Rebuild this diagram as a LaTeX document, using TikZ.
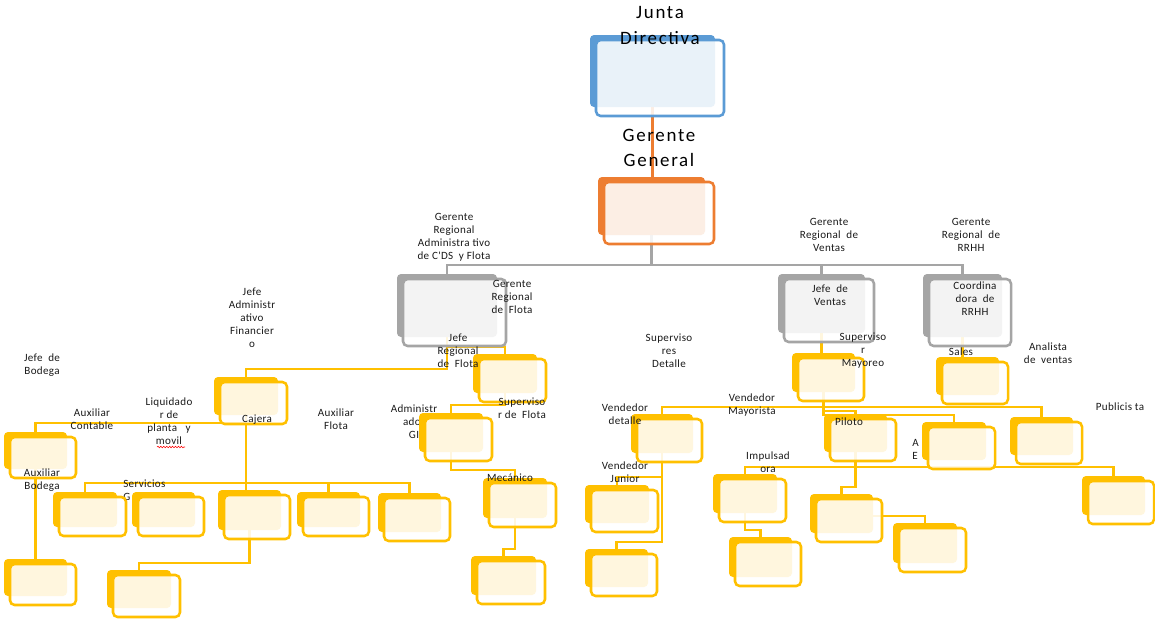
\documentclass[tikz,border=0pt]{standalone}
\usepackage{fontspec}
\setmainfont{Carlito}
\newfontfamily\lblfont[LetterSpace=3]{Carlito}
\newfontfamily\bigfont[LetterSpace=9]{Carlito}
\usetikzlibrary{backgrounds,decorations.pathmorphing}
\definecolor{cblue}{HTML}{5B9BD5}
\definecolor{corange}{HTML}{ED7D31}
\definecolor{cgray}{HTML}{A5A5A5}
\definecolor{cyel}{HTML}{FFC000}
\definecolor{ctext}{HTML}{1A1A1A}
\newcommand{\dbox}[6]{%
  \node[bk, fill=#2, minimum width={(#5-#3)*0.75pt}, minimum height={(#6-#4)*0.75pt}] (#1) at ({(#3+#5)/2},{(#4+#6)/2}) {};
  \node[fr, draw=#2, minimum width={(#5-#3+3)*0.75pt}, minimum height={(#6-#4+4)*0.75pt}] (#1-f) at ({(#3+#5)/2+7.5},{(#4+#6)/2+7}) {};
}
\begin{document}
\begin{tikzpicture}[x=0.75pt,y=-0.75pt,
  bk/.style={rectangle, rounded corners=3pt, inner sep=0pt, outer sep=0pt},
  fr/.style={rectangle, rounded corners=3.5pt, inner sep=0pt, outer sep=0pt, fill=white, fill opacity=0.87, line width=1.9pt},
  yl/.style={draw=cyel, line width=1.8pt},
  gl/.style={draw=cgray, line width=2.2pt},
  ol/.style={draw=corange, line width=1.8pt},
  lbl/.style={font=\lblfont\fontsize{8.3}{9.75}\selectfont, text=ctext, align=center, inner sep=0pt},
  big/.style={font=\bigfont\fontsize{14.2}{20}\selectfont, text=black, align=center, inner sep=0pt}]
\useasboundingbox (0,0) rectangle (1155,621);

% boxes
\dbox{jd}{cblue}{590}{35}{715}{107}
\dbox{gg}{corange}{598}{177}{705}{235}
\dbox{gra}{cgray}{397}{274}{497}{337}
\dbox{jv}{cgray}{778}{274}{865}{333}
\dbox{rrhh}{cgray}{923}{274}{1002}{337}
\dbox{jrf}{cyel}{473}{354}{537}{393}
\dbox{mec}{cyel}{483}{478}{547}{518}
\dbox{mecb}{cyel}{471}{556}{536}{595}
\dbox{s3}{cyel}{218}{490}{281}{530}
\dbox{s4}{cyel}{297}{492}{360}{527}
\dbox{s5}{cyel}{378}{493}{441}{532}
\dbox{caj}{cyel}{214}{377}{278}{415}
\dbox{ac}{cyel}{4}{432}{67}{469}
\dbox{ab}{cyel}{4}{559}{67}{596}
\dbox{s3b}{cyel}{107}{570}{171}{608}
\dbox{smay}{cyel}{792}{353}{855}{392}
\dbox{sales}{cyel}{936}{357}{999}{395}
\dbox{pil}{cyel}{824}{414}{887}{452}
\dbox{av}{cyel}{1010}{417}{1073}{455}
\dbox{pub}{cyel}{1082}{476}{1145}{515}
\dbox{pb1}{cyel}{810}{494}{873}{533}
\dbox{pb2}{cyel}{893}{523}{957}{563}
\dbox{vd}{cyel}{631}{414}{693}{453}
\dbox{vj}{cyel}{585}{485}{649}{523}
\dbox{vjb}{cyel}{585}{549}{648}{587}
\dbox{imp}{cyel}{713}{474}{777}{513}
\dbox{impb}{cyel}{729}{537}{792}{577}

% texts partly hidden by boxes
\node[lbl] (tab) at (42,480.5) {Auxiliar\\Bodega};
\node[lbl, align=left, anchor=north west] (tsg) at (123,480) {Servicios\\G};
\node[lbl] (tagi) at (414,421.5) {Administr\\ador\\GI};
\node[lbl, align=left, anchor=west] (tae) at (912,449) {A\\E};
\dbox{s1}{cyel}{53}{492}{117}{527}
\dbox{s2}{cyel}{132}{492}{195}{527}
\dbox{agi}{cyel}{419}{413}{483}{452}
\dbox{ae}{cyel}{922}{422}{986}{460}

% texts
\node[big] (tjd) at (660,25.5) {Junta\\Directiva};
\node[big, font=\bigfont\fontsize{14.2}{18.5}\selectfont] (tgg) at (659,148) {Gerente\\General};
\node[lbl] (tgra) at (454,237) {Gerente\\Regional\\Administra tivo\\de C'DS~ y Flota};
\node[lbl] (tgrf) at (512,296.5) {Gerente\\Regional\\de~ Flota};
\node[lbl] (tjrf) at (458,350.5) {Jefe\\Regional\\de~ Flota};
\node[lbl] (tgrv) at (829,234.5) {Gerente\\Regional~ de\\Ventas};
\node[lbl] (tgrr) at (971,235) {Gerente\\Regional~ de\\RRHH};
\node[lbl] (tjv) at (830,295.5) {Jefe~ de\\Ventas};
\node[lbl] (tco) at (975,299) {Coordina\\dora~ de\\RRHH};
\node[lbl] (tsm) at (863,350.5) {Superviso\\r\\Mayoreo};
\node[lbl] (tsa) at (961,352) {Sales};
\node[lbl] (tan) at (1048,353.5) {Analista\\de~ ventas};
\node[lbl] (tjaf) at (252,317.5) {Jefe\\Administr\\ativo\\Financier\\o};
\node[lbl] (tjb) at (42,365.5) {Jefe~ de\\Bodega};
\node[lbl] (tac) at (92,419.5) {Auxiliar\\Contable};
\node[lbl] (tlq) at (169,421.5) {Liquidado\\r de\\planta~~ y\\movil};
\node[lbl] (tcj) at (257,420) {Cajera};
\node[lbl] (taf) at (336,419.5) {Auxiliar\\Flota};
\node[lbl] (tsf) at (522,408.5) {Superviso\\r de~ Flota};
\node[lbl] (tme) at (510,478) {Mecánico};
\node[lbl] (tsd) at (669,350.5) {Superviso\\res\\Detalle};
\node[lbl] (tvm) at (752,405.5) {Vendedor\\Mayorista};
\node[lbl] (tvd) at (625,414.5) {Vendedor\\detalle};
\node[lbl] (tvj) at (625,472.5) {Vendedor\\Junior};
\node[lbl] (tim) at (768,462.5) {Impulsad\\ora};
\node[lbl] (tpi) at (849,422) {Piloto};
\node[lbl] (tpu) at (1120,407) {Publicis ta};
\draw[red, line width=0.4pt, decorate, decoration={snake, amplitude=0.6pt, segment length=2.2pt}] (157,447) -- (185,447);

% connectors
\begin{scope}[on background layer]
\draw[ol] (jd.south) -- (jd.south |- gg.north);
\draw[gl] (gg.south) -- (gg.south |- 0,265);
\draw[gl] (gra.north) |- (rrhh.north |- 0,265) -- (rrhh.north);
\draw[gl] (jv.north) -- (jv.north |- 0,265);
\draw[yl] (gra.south) |- (jrf.north |- 0,347) -- (jrf.north);
\draw[yl] (gra.south) |- (caj.north |- 0,369) -- (caj.north);
\draw[yl] (caj.south) |- (ac.north |- 0,423) -- (ac.north);
\draw[yl] (caj.south) -- (caj.south |- s3.north);
\draw[yl] (s1.north) |- (s5.north |- 0,483) -- (s5.north);
\draw[yl] (s4.north) -- (s4.north |- 0,483);
\draw[yl] (s3.south) |- (s3b.north |- 0,563) -- (s3b.north);
\draw[yl] (ac.south) -- (ac.south |- ab.north);
\draw[yl] (jrf.south) |- (agi.north |- 0,405) -- (agi.north);
\draw[yl] (agi.south) |- (mec.north |- 0,470) -- (mec.north);
\draw[yl] (mec.south) |- (mecb.north |- 0,549) -- (mecb.north);
\draw[yl] (jv.south) -- (jv.south |- smay.north);
\draw[yl] (rrhh.south) -- (rrhh.south |- sales.north);
\draw[yl] (vd.north) |- (av.north |- 0,407) -- (av.north);
\draw[yl] (smay.south) -- (smay.south |- pil.north);
\draw[yl] (smay.south) |- (pil.north |- 0,411) -- (pil.north);
\draw[yl] (smay.south) |- (ae.north |- 0,415) -- (ae.north);
\draw[yl] (vd.south) |- (vj.north |- 0,477) -- (vj.north);
\draw[yl] (vd.south) |- (vjb.north |- 0,542) -- (vjb.north);
\draw[yl] (imp.north) |- (pub.north |- 0,467) -- (pub.north);
\draw[yl] (pil.south) -- (pil.south |- 0,467);
\draw[yl] (pil.south) |- (pb1.north |- 0,487) -- (pb1.north);
\draw[yl] (pb1.center |- 0,516) -| (pb2.north);
\draw[yl] (imp.south) |- (impb.north |- 0,530) -- (impb.north);
\end{scope}
\end{tikzpicture}
\end{document}
